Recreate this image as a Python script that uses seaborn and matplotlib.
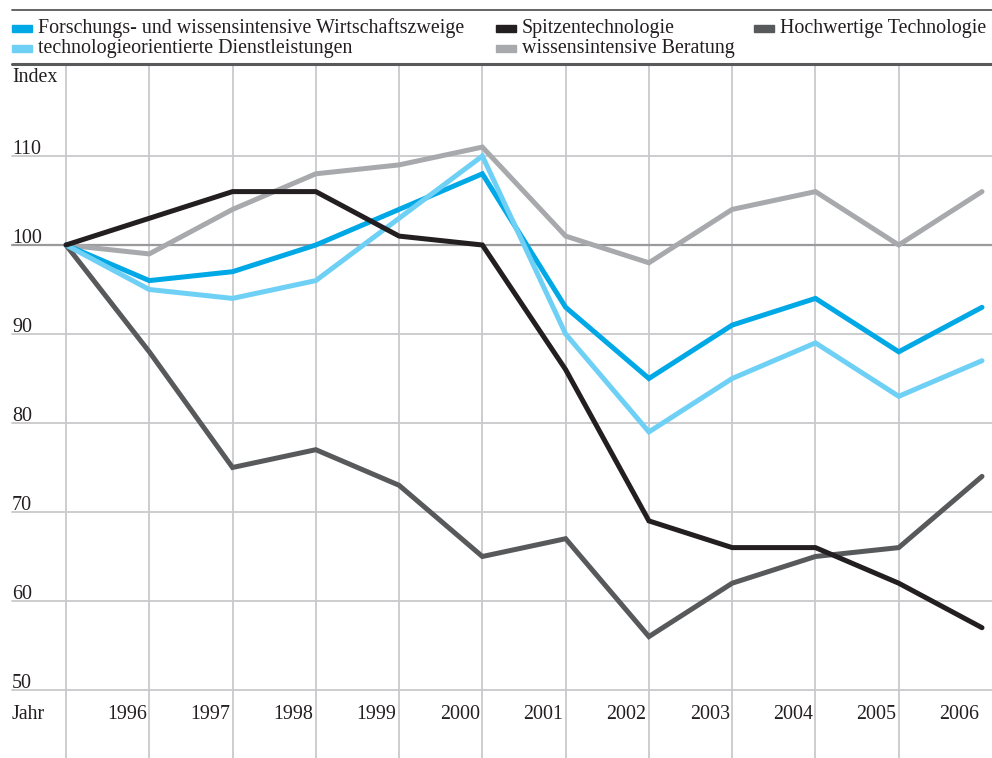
import matplotlib
matplotlib.use("Agg")
import matplotlib.pyplot as plt
import seaborn as sns
import pandas as pd
from matplotlib.patches import Rectangle

jahre = list(range(1995, 2007))
forschung = [100, 96, 97, 100, 104, 108, 93, 85, 91, 94, 88, 93]
dienstleistungen = [100, 95, 94, 96, 103, 110, 90, 79, 85, 89, 83, 87]
spitzen = [100, 103, 106, 106, 101, 100, 86, 69, 66, 66, 62, 57]
hochwertig = [100, 88, 75, 77, 73, 65, 67, 56, 62, 65, 66, 74]
beratung = [100, 99, 104, 108, 109, 111, 101, 98, 104, 106, 100, 106]

namen = ["Forschungs- und wissensintensive Wirtschaftszweige",
         "technologieorientierte Dienstleistungen",
         "Spitzentechnologie",
         "wissensintensive Beratung",
         "Hochwertige Technologie"]
farben = ["#00a8e6", "#6fd0f6", "#231f20", "#a7a9ac", "#58595b"]
y_ticks = [50, 60, 70, 80, 90, 100, 110]

werte = [forschung, dienstleistungen, spitzen, beratung, hochwertig]
df = pd.concat([pd.DataFrame({"Jahr": jahre, "Index": w, "Reihe": n})
                for n, w in zip(namen, werte)])

sns.set_style("white")
plt.rcParams['font.family'] = ['Liberation Serif', 'DejaVu Serif']
fs = 14.4

W, H = 992, 758
fig = plt.figure(figsize=(W / 100, H / 100), dpi=100)
ax = fig.add_axes([0, 0, 1, (H - 65) / H])

# pixel mapping: 1995 -> x=66, 2006 -> x=982 ; 100 -> y=245, 10 units = 89 px
px_year = (982 - 66) / 11
ax.set_xlim(1995 - 66 / px_year, 2006 + (W - 982) / px_year)
px_unit = 8.9
ax.set_ylim(100 - (H - 245) / px_unit, 100 + (245 - 65) / px_unit)
ax.axis("off")

gridc = "#c9c9cc"
for j in jahre[:-1]:
    ax.axvline(j, color=gridc, lw=1.3, zorder=0)
for t in y_ticks:
    ax.axhline(t, xmin=12 / W, xmax=1, color="#9a9a9d" if t == 100 else gridc,
               lw=1.6 if t == 100 else 1.3, zorder=0)
    ax.text(12 / W, t - 0.3, str(t), transform=ax.get_yaxis_transform(),
            fontsize=fs, ha="left", va="bottom", color="#231f20")

reihenfolge = ["wissensintensive Beratung", "Hochwertige Technologie",
               "Forschungs- und wissensintensive Wirtschaftszweige",
               "technologieorientierte Dienstleistungen", "Spitzentechnologie"]
palette = dict(zip(namen, farben))
sns.lineplot(data=df, x="Jahr", y="Index", hue="Reihe", hue_order=reihenfolge,
             palette=palette, linewidth=3.6, legend=False, ax=ax, zorder=3)
for l in ax.lines:
    l.set_solid_joinstyle("miter")

# year labels, right aligned to the gridline of that year
for j in jahre[1:]:
    ax.text(j - 0.03, 47.3, str(j), fontsize=fs, ha="right", va="center",
            color="#231f20")
ax.text(12 / W, 47.3, "Jahr", transform=ax.get_yaxis_transform(),
        fontsize=fs, ha="left", va="center", color="#231f20")

# header rules
fig.add_artist(plt.Line2D([12 / W, 1], [1 - 10 / H, 1 - 10 / H],
                          color="#58595b", lw=1.3))
fig.add_artist(plt.Line2D([12 / W, 1], [1 - 64 / H, 1 - 64 / H],
                          color="#58595b", lw=2.2))
fig.text(12 / W, 1 - 77 / H, "Index", fontsize=fs, ha="left", va="center",
         color="#231f20")

# legend
pos = [(12, 28), (12, 48), (496, 28), (496, 48), (754, 28)]
for (x, y), n in zip(pos, namen):
    fig.add_artist(Rectangle((x / W, 1 - (y + 4) / H), 20 / W, 7 / H,
                             color=palette[n], transform=fig.transFigure))
    fig.text((x + 26) / W, 1 - y / H, n, fontsize=fs, ha="left",
             va="center", color="#231f20")

fig.savefig("out.png", dpi=100)
